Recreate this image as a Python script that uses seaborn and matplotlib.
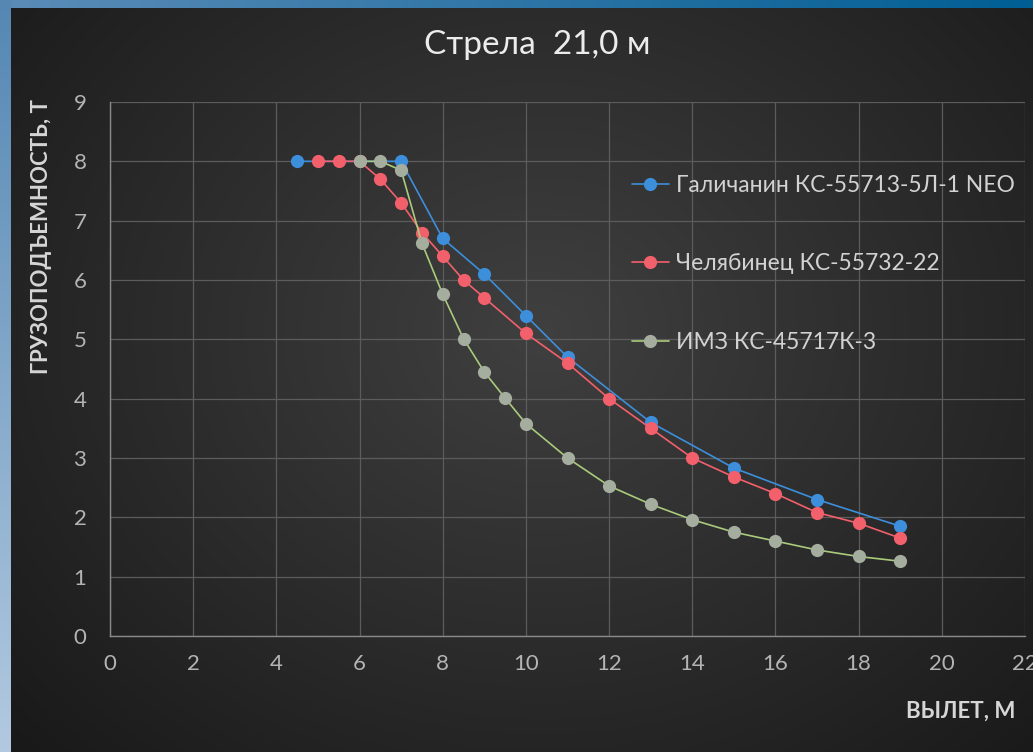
"""
Грузоподъемность кранов: стрела 21,0 м
"""

import numpy as np
import pandas as pd
import seaborn as sns
import matplotlib.pyplot as plt

# вылет, м / грузоподъемность, т
names = ["Галичанин КС-55713-5Л-1 NEO", "Челябинец КС-55732-22", "ИМЗ КС-45717К-3"]

galich_x = [4.5, 7, 8, 9, 10, 11, 13, 15, 17, 19]
galich_y = [8.0, 8.0, 6.7, 6.1, 5.4, 4.7, 3.6, 2.83, 2.3, 1.85]

chel_x = [5, 5.5, 6, 6.5, 7, 7.5, 8, 8.5, 9, 10, 11, 12, 13, 14, 15, 16, 17, 18, 19]
chel_y = [8.0, 8.0, 8.0, 7.7, 7.3, 6.8, 6.4, 6.0, 5.7, 5.1, 4.6, 4.0, 3.5, 3.0, 2.68, 2.4, 2.08, 1.9, 1.65]

imz_x = [6, 6.5, 7, 7.5, 8, 8.5, 9, 9.5, 10, 11, 12, 13, 14, 15, 16, 17, 18, 19]
imz_y = [8.0, 8.0, 7.85, 6.62, 5.76, 5.01, 4.45, 4.01, 3.58, 3.0, 2.53, 2.22, 1.96, 1.75, 1.6, 1.45, 1.34, 1.26]

x_ticks = list(range(0, 23, 2))
y_ticks = list(range(0, 10))

line_colors = ["#3d8edb", "#f2606c", "#aacb7c"]
marker_faces = ["#3d8edb", "#f2606c", "#a5ad9e"]

df = pd.concat([
    pd.DataFrame({"x": galich_x, "y": galich_y, "crane": names[0]}),
    pd.DataFrame({"x": chel_x, "y": chel_y, "crane": names[1]}),
    pd.DataFrame({"x": imz_x, "y": imz_y, "crane": names[2]}),
])

sns.set_style("dark")
plt.rcParams["font.family"] = ["Lato", "DejaVu Sans"]

W, H = 1033, 752
fig = plt.figure(figsize=(W / 100, H / 100), dpi=100)

# фон: тёмный радиальный градиент + синяя рамка сверху и слева
bg = fig.add_axes([0, 0, 1, 1])
yy, xx = np.mgrid[0:H, 0:W]
r = np.sqrt(((xx - 540) / 620.0) ** 2 + ((yy - 330) / 520.0) ** 2)
v = np.clip(0.25 - 0.13 * r, 0.09, 0.25)
img = np.dstack([v, v, v])
top = 8
left = 11
t = np.linspace(0, 1, W)
img[:top, :, 0] = (0.36 * (1 - t) + 0.0 * t)[None, :]
img[:top, :, 1] = (0.55 * (1 - t) + 0.37 * t)[None, :]
img[:top, :, 2] = (0.72 * (1 - t) + 0.58 * t)[None, :]
s = np.linspace(0, 1, H)
img[:, :left, 0] = (0.33 * (1 - s) + 0.70 * s)[:, None]
img[:, :left, 1] = (0.53 * (1 - s) + 0.79 * s)[:, None]
img[:, :left, 2] = (0.70 * (1 - s) + 0.88 * s)[:, None]
bg.imshow(img, aspect="auto", extent=[0, 1, 0, 1])
bg.axis("off")

ax = fig.add_axes([110 / W, 1 - 636 / H, 915 / W, 534 / H])
ax.set_facecolor("none")

sns.lineplot(data=df, x="x", y="y", hue="crane", palette=line_colors,
             marker="o", markersize=9.5, markeredgewidth=0, linewidth=1.2,
             sort=False, legend=False, ax=ax)

for ln, fc in zip(ax.lines, marker_faces):
    ln.set_markerfacecolor(fc)
    ln.set_markeredgecolor(fc)

ax.set_xlim(0, 22)
ax.set_ylim(0, 9)
ax.set_xticks(x_ticks)
ax.set_yticks(y_ticks)
ax.grid(True, color="#5c5c5c", linewidth=0.9)
for side in ["top", "right"]:
    ax.spines[side].set_visible(False)
for side in ["left", "bottom"]:
    ax.spines[side].set_color("#8a8a8a")
    ax.spines[side].set_linewidth(1.0)
ax.tick_params(axis="both", colors="#8a8a8a", labelcolor="#b4b4b4",
               labelsize=16, direction="out", length=7, width=1.0)
ax.tick_params(axis="x", pad=6)
ax.tick_params(axis="y", pad=10)
ax.set_xlabel("")
ax.set_ylabel("")

fig.text(537 / W, 1 - 45 / H, "Стрела  21,0 м", ha="center", va="center",
         fontsize=24, color="#ececec")
fig.text(41 / W, 1 - 236 / H, "ГРУЗОПОДЪЕМНОСТЬ, Т", rotation=90,
         ha="center", va="center", fontsize=16, fontweight="bold", color="#d6d6d6")
fig.text(1015 / W, 1 - 711 / H, "ВЫЛЕТ, М", ha="right", va="center",
         fontsize=16, fontweight="bold", color="#d6d6d6")

leg = ax.legend(ax.lines[:3], names, loc="upper left",
                bbox_to_anchor=((632 - 110) / 915, (636 - 175) / 534),
                frameon=False, fontsize=16.5, labelspacing=2.5,
                handlelength=1.6, handletextpad=0.3, borderpad=0, borderaxespad=0)
for txt in leg.get_texts():
    txt.set_color("#d2d2d2")

fig.savefig("out.png", dpi=100)
